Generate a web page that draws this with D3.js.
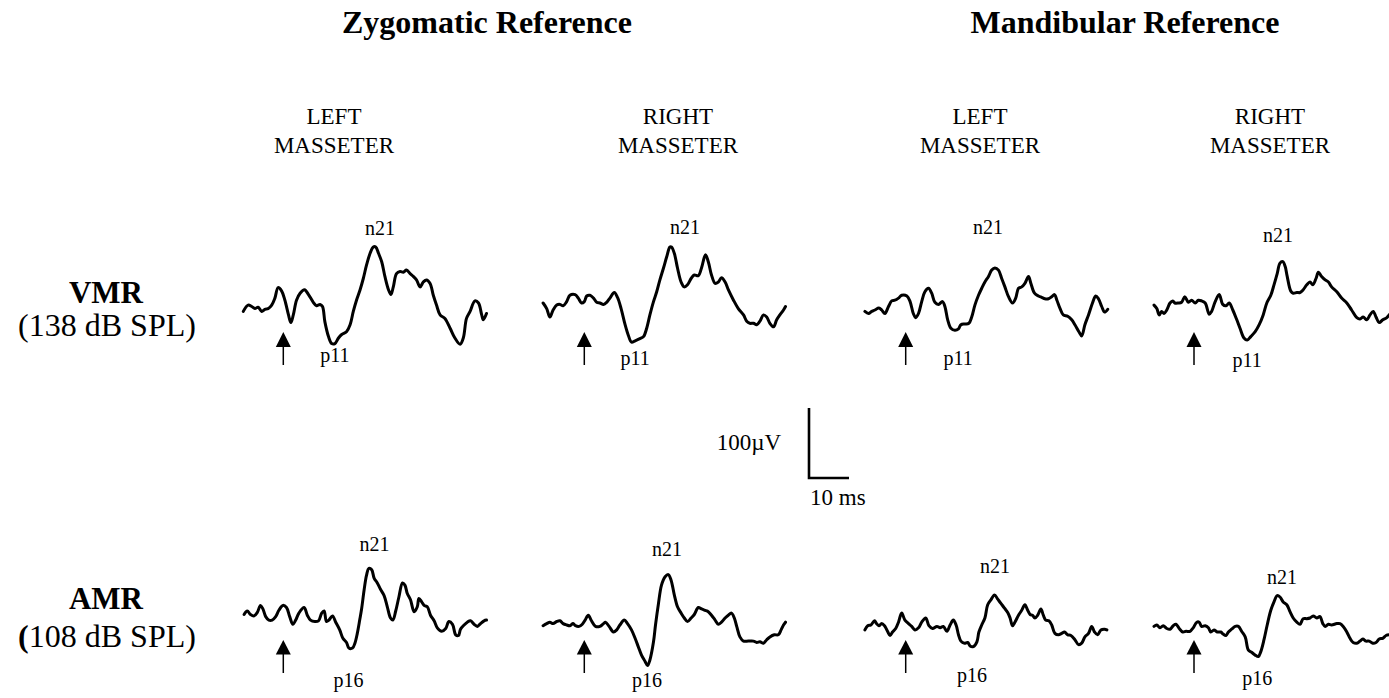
<!DOCTYPE html>
<html>
<head>
<meta charset="utf-8">
<script src="https://cdn.jsdelivr.net/npm/d3@7/dist/d3.min.js"></script>
<style>
  html, body { margin: 0; padding: 0; background: #fff; }
  svg { display: block; }
  text { font-family: "Liberation Serif", "Times New Roman", serif; fill: #000; }
</style>
</head>
<body>
<svg id="chart" width="1389" height="698"></svg>
<script>
// ---- DATA: [time (ms re: stimulus onset), amplitude (µV, negative plotted upward)] ----
const vmrZygLeft = [[-10,2],[-8.8,-7],[-7.9,-5],[-7.1,-2],[-6.3,-4],[-5.4,2],[-4.6,-1],[-3.8,-2],[-2.9,-7],[-2.1,-17],[-1.3,-32],[-0.4,-27],[0.4,-14],[1.3,7],[1.9,18],[2.5,7],[3.3,-14],[4.2,-24],[5.3,-29],[6.3,-22],[7.5,-11],[8.3,-6],[9.2,-8],[9.8,-5],[10.4,17],[11.3,38],[12.1,48],[12.9,48],[13.8,40],[14.6,35],[15.8,31],[16.7,21],[17.5,2],[18.3,-14],[19.2,-29],[20,-45],[20.8,-64],[21.7,-81],[22.5,-90],[23.1,-90],[23.8,-81],[24.6,-69],[25.4,-48],[26.3,-29],[26.9,-22],[27.5,-33],[28.3,-52],[29.2,-55],[30,-54],[30.8,-57],[31.7,-52],[32.5,-48],[33.3,-43],[34.2,-33],[35,-40],[35.8,-43],[36.7,-38],[37.5,-21],[38.3,-7],[39.2,7],[40.4,12],[41.7,26],[42.9,40],[44.2,49],[45,40],[45.8,12],[46.7,2],[47.9,-13],[48.8,-10],[49.6,7],[50,14],[50.8,5]];
const vmrZygRight = [[-10.3,-10],[-9.4,-2],[-8.6,10],[-7.8,0],[-6.9,-7],[-6.1,-8],[-5.3,-6],[-4.4,-12],[-3.6,-21],[-2.3,-22],[-1.5,-17],[-0.7,-10],[0,-12],[0.6,-20],[1.4,-21],[2.3,-17],[3.1,-11],[3.9,-10],[4.8,-8],[5.6,-11],[6.4,-17],[7.5,-25],[8.3,-18],[9.2,-2],[10.2,21],[11,36],[11.8,46],[12.7,44],[13.9,41],[14.8,38],[15.6,26],[16.4,7],[17.3,-12],[18.1,-26],[18.9,-43],[19.8,-60],[20.6,-76],[21.4,-90],[21.8,-90],[22.5,-81],[23.3,-60],[24.2,-40],[25,-33],[25.8,-36],[26.7,-45],[27.5,-50],[28.5,-49],[29.3,-60],[30.3,-79],[31,-69],[31.8,-50],[32.7,-38],[33.5,-40],[34.3,-46],[35.2,-40],[36,-29],[37.3,-14],[38.5,-2],[39.8,7],[40.6,16],[41.4,19],[42.3,19],[43.1,21],[43.9,16],[44.8,7],[45.6,10],[46.4,19],[47.3,24],[48.1,14],[48.9,7],[49.8,0],[50.3,-5]];
const vmrMandLeft = [[-10.2,2],[-9.3,5],[-8.5,2],[-7.7,0],[-6.7,-3],[-6,0],[-5.2,5],[-4.3,-5],[-3.5,-13],[-2.7,-14],[-1.8,-17],[-1,-21],[0.3,-20],[1.1,-12],[1.9,5],[2.5,11],[3.2,5],[4,-12],[4.8,-26],[5.7,-31],[6.5,-24],[7.3,-11],[8.2,-8],[9.2,-12],[9.8,-5],[10.5,14],[11.3,26],[12.3,29],[13.2,27],[13.8,21],[14.8,20],[15.8,19],[16.5,10],[17.3,-7],[18.2,-21],[19,-31],[19.8,-40],[20.7,-48],[21.5,-57],[22.3,-60],[23.2,-57],[24,-45],[24.8,-33],[25.7,-19],[26.7,-10],[27.5,-17],[28.2,-31],[29,-33],[29.8,-38],[30.7,-48],[31.3,-38],[32.2,-24],[33.2,-20],[34,-18],[34.8,-16],[35.7,-16],[36.5,-19],[37.2,-22],[37.8,-14],[38.6,-2],[39.4,7],[40.5,9],[41.5,14],[42.3,21],[43.3,31],[44,37],[44.8,21],[45.7,7],[46.7,-10],[47.5,-20],[48.2,-16],[49,-5],[49.7,3],[50.5,-1]];
const vmrMandRight = [[-10,-7],[-9.3,-2],[-8.7,7],[-8.1,2],[-7.5,5],[-6.8,0],[-6,-10],[-5.3,-13],[-4.8,-10],[-3.9,-10],[-3.1,-11],[-2.3,-19],[-1.4,-11],[-0.6,-14],[0.3,-10],[1.1,-14],[1.9,-13],[2.8,-10],[3.8,6],[4.4,2],[5.3,-12],[6.3,-22],[7.2,-8],[8,-6],[8.8,-10],[9.7,0],[10.7,14],[11.5,26],[12.5,40],[13.3,43],[14.2,38],[15.3,31],[16.3,21],[17.3,7],[18.2,-10],[19.2,-21],[20,-36],[20.8,-52],[21.5,-67],[22.2,-69],[22.8,-62],[23.3,-48],[24.2,-27],[24.8,-24],[25.7,-25],[26.5,-25],[27.3,-29],[28.2,-36],[29,-40],[29.7,-36],[30.5,-45],[31.1,-54],[31.9,-48],[32.8,-43],[33.6,-40],[34.4,-33],[35.7,-26],[36.9,-17],[38.2,-10],[39.4,0],[40.7,11],[41.5,13],[42.3,10],[43.2,14],[44,7],[44.8,2],[45.5,10],[46.3,18],[47.2,14],[48.2,11],[48.8,7],[49.8,3]];
const amrZygLeft = [[-9.8,-15],[-9,-20],[-8.2,-15],[-7.3,-13],[-6.5,-18],[-5.7,-28],[-5.1,-23],[-4.4,-12],[-3.6,-7],[-2.8,-7],[-1.9,-12],[-1.1,-21],[-0.1,-28],[0.8,-25],[1.6,-12],[2.4,-1],[3.1,-7],[3.9,-17],[5.2,-25],[6,-14],[6.8,-7],[7.9,-5],[8.8,-6],[9.6,-17],[10.2,-20],[10.8,-5],[11.4,-7],[12.3,-13],[13.1,-4],[14.1,7],[14.9,19],[15.8,25],[16.4,33],[17.3,33],[17.9,26],[18.5,12],[19.1,-7],[19.6,-24],[20.2,-50],[20.8,-71],[21.4,-81],[22.1,-79],[22.7,-67],[23.5,-60],[24.3,-51],[25.2,-42],[26,-26],[26.8,-10],[27.4,-7],[28.1,-20],[28.9,-40],[29.8,-60],[30.4,-57],[31,-45],[31.8,-36],[32.7,-19],[33.5,-26],[33.9,-38],[34.6,-33],[35.2,-28],[36,-26],[36.8,-14],[37.7,-6],[38.5,4],[39.6,9],[40.6,5],[41.4,-5],[42.3,-1],[43.1,14],[43.8,15],[44.3,6],[45.2,0],[46,-4],[46.8,-6],[47.7,-1],[48.5,2],[49.3,-2],[50.2,-6],[50.8,-7]];
const amrZygRight = [[-10.3,1],[-9.4,-2],[-8.6,-4],[-7.8,-2],[-6.9,-5],[-6.1,-6],[-5.3,-2],[-4.4,0],[-3.6,1],[-2.8,-2],[-2.2,1],[-1.3,2],[-0.5,-1],[0.2,-7],[1,-14],[1.8,-6],[2.8,2],[3.9,2],[4.8,-2],[5.3,-4],[6.2,2],[7.3,10],[8.1,7],[8.9,0],[10,-7],[10.8,-2],[11.8,7],[12.7,19],[13.5,31],[14.3,43],[15.2,52],[15.8,58],[16.4,50],[17.3,24],[17.8,0],[18.5,-29],[19.3,-57],[20.2,-69],[21,-72],[21.7,-64],[22.5,-43],[23.3,-26],[24.2,-17],[25,-10],[25.8,-5],[26.7,-10],[27.5,-15],[28.5,-25],[29.3,-23],[30.2,-21],[31,-19],[31.8,-14],[32.7,-7],[33.5,-1],[34.3,-4],[35.2,-10],[36,-14],[36.8,-17],[37.5,-10],[38.1,2],[38.9,17],[39.8,23],[41,23],[42.3,23],[43.1,25],[43.9,24],[44.8,26],[45.6,21],[46.4,17],[47.5,14],[48.5,14],[49.2,7],[49.8,0],[50.3,-4]];
const amrMandLeft = [[-10.2,7],[-9.5,1],[-8.7,0],[-7.8,-6],[-7.3,-2],[-6.7,1],[-6,-2],[-5.3,1],[-4.8,6],[-3.9,15],[-3.3,10],[-2.5,5],[-1.8,-4],[-1,-17],[-0.2,-7],[0.7,-2],[1.5,2],[2.3,7],[3.2,4],[4,-4],[5,-10],[5.8,1],[6.7,5],[7.8,2],[8.6,4],[9.4,2],[10.3,9],[11.1,0],[11.9,-7],[12.6,0],[13.2,14],[13.8,23],[14.7,26],[15.5,25],[16.1,30],[16.9,31],[17.8,24],[18.3,10],[19,0],[19.8,-10],[20.5,-29],[21.3,-36],[22.2,-43],[23,-37],[23.8,-31],[24.7,-24],[25.5,-18],[26.1,-10],[26.7,1],[27.3,-4],[28.2,-14],[29,-21],[29.8,-29],[30.5,-21],[31.1,-15],[31.7,-14],[32.3,-10],[33,-14],[33.8,-23],[34.4,-14],[35,-7],[35.8,-6],[36.5,0],[37.3,12],[38.2,14],[39,12],[39.7,10],[40.5,14],[41.3,15],[42.3,21],[43.2,28],[44,26],[44.8,17],[45.7,12],[46.5,2],[47.2,10],[48,14],[48.8,7],[49.7,6],[50.3,7]];
const amrMandRight = [[-10,2],[-9.3,0],[-8.5,4],[-7.7,1],[-6.8,5],[-6,6],[-5.2,1],[-4.5,-1],[-3.7,5],[-2.8,10],[-2,9],[-1,9],[-0.2,4],[0.7,-4],[1.3,-4],[1.9,2],[2.8,1],[3.6,4],[4.2,10],[5,7],[5.8,10],[6.7,10],[7.3,13],[8,15],[8.6,10],[9.4,6],[10.3,2],[11.1,2],[11.9,9],[12.8,17],[13.6,36],[14.4,39],[15.3,43],[16.1,45],[16.7,38],[17.5,21],[18.3,0],[19.2,-21],[20,-33],[20.8,-42],[21.5,-40],[22.3,-33],[23.2,-29],[24,-19],[24.8,-10],[25.7,-4],[26.5,-1],[27.3,-9],[28.2,-9],[29,-10],[29.8,-13],[30.7,-10],[31.5,-12],[32.2,-2],[32.8,2],[33.6,-1],[34.4,0],[35.7,-2],[36.5,-2],[37.3,2],[38.2,10],[39,19],[39.8,25],[40.7,26],[41.5,23],[42.2,20],[43,23],[43.8,23],[44.7,26],[45.5,25],[46.3,20],[47.2,19],[48,15],[48.8,14]];

const groupTitles = ["Zygomatic Reference", "Mandibular Reference"];
const columnLabels = [["LEFT","MASSETER"],["RIGHT","MASSETER"],["LEFT","MASSETER"],["RIGHT","MASSETER"]];
const rowNames = ["VMR", "AMR"];
const rowLevels = ["138 dB SPL", "108 dB SPL"];
const peakNames = [["n21","p11"],["n21","p16"]];
const traces = [
  [vmrZygLeft, vmrZygRight, vmrMandLeft, vmrMandRight],
  [amrZygLeft, amrZygRight, amrMandLeft, amrMandRight]
];
const scaleBarAmp = 100; // µV
const scaleBarTime = 10; // ms

// ---- LAYOUT ----
const pxPerMs = 4, pxPerUv = 0.7;
const colX = [283.3, 584.3, 905.7, 1194];      // stimulus onset x per column
const rowY = [310, 625];                        // zero line per row
const colLabelX = [334, 678, 980, 1270];
const groupTitleX = [487, 1125];
// label anchors in data coords [t, v] per row/col : [n-label, p-label]
const labelAnchors = [
  [[[24.2,-107],[12.9,74]], [[25.2,-109],[12.7,79]], [[20.6,-109],[13.1,79]], [[21,-97],[13.3,81]]],
  [[[22.8,-106],[16.3,89]], [[20.7,-99],[15.7,89]], [[22.3,-74],[16.6,81]], [[22,-59],[15.8,86]]]
];
const arrowOffsets = [[22, 37, 55], [15, 29.5, 48]]; // head top, head base, shaft bottom (px below zero line)

const svg = d3.select("#chart");

// titles
svg.selectAll("text.group").data(groupTitles).join("text")
  .attr("class","group")
  .attr("x", (d,i) => groupTitleX[i]).attr("y", 33)
  .attr("text-anchor","middle").attr("font-size", 32).attr("font-weight","bold")
  .text(d => d);

// column labels
columnLabels.forEach((lines, c) => {
  lines.forEach((s, k) => {
    svg.append("text").attr("x", colLabelX[c]).attr("y", 124 + k*29)
      .attr("text-anchor","middle").attr("font-size", 23).text(s);
  });
});

// row labels
const rowNameY = [303, 609], rowLevelY = [336, 647];
rowNames.forEach((n, r) => {
  svg.append("text").attr("x", 106).attr("y", rowNameY[r])
    .attr("text-anchor","middle").attr("font-size", 31).attr("font-weight","bold").text(n);
  const t = svg.append("text").attr("x", 107).attr("y", rowLevelY[r])
    .attr("text-anchor","middle").attr("font-size", 32);
  t.append("tspan").attr("font-weight", r === 1 ? "bold" : "normal").text("(");
  t.append("tspan").text(rowLevels[r] + ")");
});

const line = d3.line().curve(d3.curveCatmullRom.alpha(0.5));

traces.forEach((row, r) => {
  row.forEach((data, c) => {
    const x = d3.scaleLinear().domain([0, 10]).range([colX[c], colX[c] + 10*pxPerMs]);
    const y = d3.scaleLinear().domain([0, 100]).range([rowY[r], rowY[r] + 100*pxPerUv]);
    const g = svg.append("g");
    g.append("path")
      .attr("d", line.x(d => x(d[0])).y(d => y(d[1]))(data))
      .attr("fill","none").attr("stroke","#000").attr("stroke-width", 3)
      .attr("stroke-linejoin","round").attr("stroke-linecap","round");
    // stimulus arrow
    const ax = x(0), [ht, hb, sb] = arrowOffsets[r].map(o => rowY[r] + o);
    g.append("line").attr("x1", ax).attr("x2", ax).attr("y1", hb - 1).attr("y2", sb)
      .attr("stroke","#000").attr("stroke-width", 1.5);
    g.append("path").attr("d", `M${ax},${ht} L${ax-7.5},${hb} L${ax+7.5},${hb} Z`).attr("fill","#000");
    // peak labels
    labelAnchors[r][c].forEach((a, k) => {
      g.append("text").attr("x", x(a[0])).attr("y", y(a[1]))
        .attr("text-anchor","middle").attr("font-size", 20).text(peakNames[r][k]);
    });
  });
});

// calibration bar (uses same scales)
const sbx = d3.scaleLinear().domain([0, 10]).range([809, 809 + 10*pxPerMs]);
const sby = d3.scaleLinear().domain([0, 100]).range([478, 478 - 100*pxPerUv]);
svg.append("path")
  .attr("d", `M${sbx(0)},${sby(scaleBarAmp)} L${sbx(0)},${sby(0)} L${sbx(scaleBarTime)},${sby(0)}`)
  .attr("fill","none").attr("stroke","#000").attr("stroke-width", 2.6);
svg.append("text").attr("x", 749).attr("y", 450).attr("text-anchor","middle").attr("font-size", 23).text(scaleBarAmp + "µV");
svg.append("text").attr("x", 810).attr("y", 505).attr("font-size", 23).text(scaleBarTime + " ms");
</script>
</body>
</html>
